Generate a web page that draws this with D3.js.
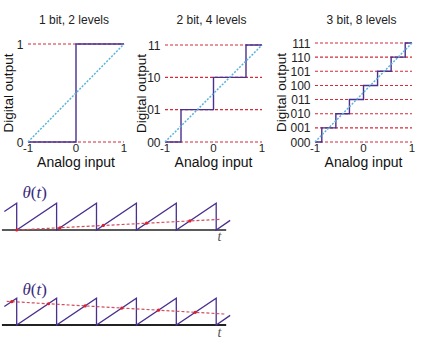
<!DOCTYPE html>
<html>
<head>
<meta charset="utf-8">
<script src="https://cdn.jsdelivr.net/npm/d3@7"></script>
<style>
  body { margin: 0; background: #fff; }
  svg { display: block; font-family: "Liberation Sans", Arial, sans-serif; }
</style>
</head>
<body>
<svg id="chart" width="426" height="352"></svg>
<script>
// quantizer panels
const titles = ["1 bit, 2 levels", "2 bit, 4 levels", "3 bit, 8 levels"];
const levels1 = ["0", "1"];
const levels2 = ["00", "01", "10", "11"];
const levels3 = ["000", "001", "010", "011", "100", "101", "110", "111"];
const edges1 = [0];
const edges2 = [-0.67, 0, 0.67];
const edges3 = [-0.86, -0.57, -0.29, 0, 0.29, 0.57, 0.86];
const xTicks = [-1, 0, 1];

// sawtooth panels
const sawT = [-0.31, 0, 0, 1, 1, 2, 2, 3, 3, 4, 4, 5, 5, 5.35];
const sawV = [0.69, 1, 0, 1, 0, 1, 0, 1, 0, 1, 0, 1, 0, 0.36];
const axisT = [-0.37, 5.25];
const sampleT1 = [0, 1.085, 2.17, 3.255, 4.34];
const sampleV1 = [0, 0.085, 0.17, 0.255, 0.34];
const aliasT1 = [0, 5.12];
const aliasV1 = [0, 0.40];
const sampleT2 = [-0.125, 0.795, 1.715, 2.635, 3.555, 4.475];
const sampleV2 = [0.875, 0.795, 0.715, 0.635, 0.555, 0.475];
const aliasT2 = [-0.25, 5.22];
const aliasV2 = [0.886, 0.41];

const svg = d3.select("#chart");
const purple = "#4a2f8f";
const red = "#d42a3a";
const blue = "#5ab2dc";

const panels = [
  { title: titles[0], levels: levels1, edges: edges1, x0: 28, x1: 124, yTop: 44, labelX: 13 },
  { title: titles[1], levels: levels2, edges: edges2, x0: 165, x1: 262, yTop: 45, labelX: 146 },
  { title: titles[2], levels: levels3, edges: edges3, x0: 315, x1: 412, yTop: 43, labelX: 286 }
];

panels.forEach(p => {
  const n = p.levels.length;
  const x = d3.scaleLinear().domain([-1, 1]).range([p.x0, p.x1]);
  const y = d3.scaleLinear().domain([0, n - 1]).range([142, p.yTop]);
  const g = svg.append("g");

  g.append("text")
    .attr("x", (p.x0 + p.x1) / 2 - 2)
    .attr("y", 24)
    .attr("text-anchor", "middle")
    .attr("font-size", 12)
    .attr("fill", "#222")
    .text(p.title);

  // red dashed level lines
  g.selectAll("line.level")
    .data(d3.range(n))
    .join("line")
    .attr("class", "level")
    .attr("x1", x(-1)).attr("x2", x(1))
    .attr("y1", d => y(d)).attr("y2", d => y(d))
    .attr("stroke", red)
    .attr("stroke-width", 1.1)
    .attr("stroke-dasharray", "3,2");

  // quantizer staircase
  const pts = [[-1, 0]].concat(p.edges.map((e, i) => [e, i + 1]), [[1, n - 1]]);
  g.append("path")
    .attr("d", d3.line().x(d => x(d[0])).y(d => y(d[1])).curve(d3.curveStepAfter)(pts))
    .attr("fill", "none")
    .attr("stroke", purple)
    .attr("stroke-width", 1.4);

  // ideal diagonal
  g.append("line")
    .attr("x1", x(-1)).attr("y1", y(0))
    .attr("x2", x(1)).attr("y2", y(n - 1))
    .attr("stroke", blue)
    .attr("stroke-width", 1.5)
    .attr("stroke-dasharray", "2,1.5");

  // y tick labels
  g.selectAll("text.ylab")
    .data(p.levels)
    .join("text")
    .attr("class", "ylab")
    .attr("x", p.x0 - 4.5)
    .attr("y", (d, i) => y(i) + 4.5)
    .attr("text-anchor", "end")
    .attr("font-size", 12)
    .attr("fill", "#222")
    .text(d => d);

  // x tick labels
  g.selectAll("text.xlab")
    .data(xTicks)
    .join("text")
    .attr("class", "xlab")
    .attr("x", d => x(d))
    .attr("y", 151.5)
    .attr("text-anchor", "middle")
    .attr("font-size", 11.5)
    .attr("fill", "#222")
    .text(d => d === -1 ? "-1" : d);

  g.append("text")
    .attr("x", (p.x0 + p.x1) / 2)
    .attr("y", 166.5)
    .attr("text-anchor", "middle")
    .attr("font-size", 14)
    .attr("fill", "#111")
    .text("Analog input");

  g.append("text")
    .attr("transform", `translate(${p.labelX},${(p.yTop + 142) / 2}) rotate(-90)`)
    .attr("text-anchor", "middle")
    .attr("font-size", 13.5)
    .attr("fill", "#111")
    .text("Digital output");
});

// sawtooth panels
const xt = d3.scaleLinear().domain([0, 5]).range([16.7, 216.2]);
const sawPts = sawT.map((t, i) => [t, sawV[i]]);

function drawSaw(base, sampleT, sampleV, aliasT, aliasV, axisColor, labelY, tY) {
  const y = d3.scaleLinear().domain([0, 1]).range([base, base - 26.7]);
  const g = svg.append("g");
  const line = d3.line().x(d => xt(d[0])).y(d => y(d[1]));

  g.append("line")
    .attr("x1", xt(axisT[0])).attr("x2", xt(axisT[1]))
    .attr("y1", base).attr("y2", base)
    .attr("stroke", axisColor)
    .attr("stroke-width", 1.8);

  g.append("path")
    .attr("d", line(sawPts))
    .attr("fill", "none")
    .attr("stroke", purple)
    .attr("stroke-width", 1.3);

  g.append("path")
    .attr("d", line(aliasT.map((t, i) => [t, aliasV[i]])))
    .attr("fill", "none")
    .attr("stroke", "#d0505e")
    .attr("stroke-width", 1.2)
    .attr("stroke-dasharray", "3,2");

  g.selectAll("circle")
    .data(sampleT.map((t, i) => [t, sampleV[i]]))
    .join("circle")
    .attr("cx", d => xt(d[0]))
    .attr("cy", d => y(d[1]))
    .attr("r", 1.6)
    .attr("fill", "#e01c2c");

  const th = g.append("text")
    .attr("x", 22.5)
    .attr("y", labelY)
    .attr("font-family", "'Liberation Serif', 'DejaVu Serif', serif")
    .attr("font-size", 17)
    .attr("fill", "#3a2a7a");
  th.append("tspan").attr("font-style", "italic").text("θ");
  th.append("tspan").text("(");
  th.append("tspan").attr("font-style", "italic").text("t");
  th.append("tspan").text(")");

  g.append("text")
    .attr("x", 217.5)
    .attr("y", tY)
    .attr("font-family", "'Liberation Serif', 'DejaVu Serif', serif")
    .attr("font-style", "italic")
    .attr("font-size", 14)
    .attr("fill", "#555")
    .text("t");
}

drawSaw(230, sampleT1, sampleV1, aliasT1, aliasV1, "#5a5a5a", 198, 241);
drawSaw(325, sampleT2, sampleV2, aliasT2, aliasV2, "#222", 295, 337);
</script>
</body>
</html>
